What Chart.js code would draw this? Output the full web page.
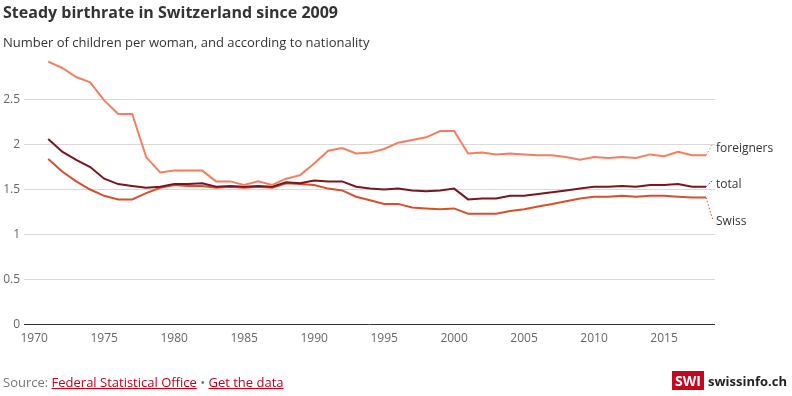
<!DOCTYPE html>
<html>
<head>
<meta charset="utf-8">
<script src="https://cdn.jsdelivr.net/npm/chart.js@4/dist/chart.umd.min.js"></script>
<style>
  html, body { margin: 0; padding: 0; background: #fff; }
  body { width: 792px; height: 396px; position: relative; overflow: hidden; font-family: 'Open Sans', sans-serif; }
  #wrap { position: absolute; left: 0; top: 0; width: 792px; height: 396px; }
  .title { position: absolute; left: 3px; top: 1px; font-size: 16px; font-weight: 700; color: #333; }
  .sub { position: absolute; left: 3px; top: 33px; font-size: 13px; color: #333; }
  .source { position: absolute; left: 3px; top: 373px; font-size: 13px; color: #777; }
  .source a { color: #c4001f; text-decoration: underline; }
  .logo { position: absolute; left: 672px; top: 371px; height: 19px; display: flex; align-items: center; }
  .logo .box { background: #c4071f; color: #fff; font-weight: 700; font-size: 14px; height: 19px; line-height: 19px; padding: 0 3px; width: 26px; text-align: center; }
  .logo .name { margin-left: 4px; font-weight: 700; font-size: 13px; color: #222; }
</style>
</head>
<body>
<div id="wrap"><canvas id="chart"></canvas></div>
<div class="title">Steady birthrate in Switzerland since 2009</div>
<div class="sub">Number of children per woman, and according to nationality</div>
<div class="source">Source: <a>Federal Statistical Office</a> • <a>Get the data</a></div>
<div class="logo"><span class="box">SWI</span><span class="name">swissinfo.ch</span></div>
<script>
const years = [1971, 1972, 1973, 1974, 1975, 1976, 1977, 1978, 1979, 1980,
  1981, 1982, 1983, 1984, 1985, 1986, 1987, 1988, 1989, 1990,
  1991, 1992, 1993, 1994, 1995, 1996, 1997, 1998, 1999, 2000,
  2001, 2002, 2003, 2004, 2005, 2006, 2007, 2008, 2009, 2010,
  2011, 2012, 2013, 2014, 2015, 2016, 2017, 2018];

const foreigners = [2.92, 2.85, 2.75, 2.69, 2.49, 2.34, 2.34, 1.86, 1.69, 1.71,
  1.71, 1.71, 1.59, 1.59, 1.55, 1.59, 1.55, 1.62, 1.66, 1.79,
  1.93, 1.96, 1.90, 1.91, 1.95, 2.02, 2.05, 2.08, 2.15, 2.15,
  1.90, 1.91, 1.89, 1.90, 1.89, 1.88, 1.88, 1.86, 1.83, 1.86,
  1.85, 1.86, 1.85, 1.89, 1.87, 1.92, 1.88, 1.88];

const total = [2.06, 1.92, 1.83, 1.75, 1.62, 1.56, 1.54, 1.52, 1.53, 1.56,
  1.56, 1.57, 1.53, 1.54, 1.53, 1.54, 1.53, 1.58, 1.57, 1.60,
  1.59, 1.59, 1.53, 1.51, 1.50, 1.51, 1.49, 1.48, 1.49, 1.51,
  1.39, 1.40, 1.40, 1.43, 1.43, 1.45, 1.47, 1.49, 1.51, 1.53,
  1.53, 1.54, 1.53, 1.55, 1.55, 1.56, 1.53, 1.53];

const swiss = [1.84, 1.70, 1.59, 1.50, 1.43, 1.39, 1.39, 1.46, 1.52, 1.55,
  1.54, 1.54, 1.52, 1.53, 1.52, 1.53, 1.52, 1.57, 1.56, 1.55,
  1.51, 1.49, 1.42, 1.38, 1.34, 1.34, 1.30, 1.29, 1.28, 1.29,
  1.23, 1.23, 1.23, 1.26, 1.28, 1.31, 1.34, 1.37, 1.40, 1.42,
  1.42, 1.43, 1.42, 1.43, 1.43, 1.42, 1.41, 1.41];

const xTicks = [1970, 1975, 1980, 1985, 1990, 1995, 2000, 2005, 2010, 2015];
const yTicks = [0, 0.5, 1, 1.5, 2, 2.5];
const seriesNames = ['foreigners', 'total', 'Swiss'];
const seriesColors = ['#f47f5e', '#7a1520', '#d7502d'];
const labelShift = [-8, -3, 23];

const toPoints = vals => years.map((y, i) => ({ x: y, y: vals[i] }));

// end labels with dotted leaders
const endLabels = {
  id: 'endLabels',
  afterDatasetsDraw(chart) {
    const ctx = chart.ctx;
    chart.data.datasets.forEach((ds, i) => {
      const pts = chart.getDatasetMeta(i).data;
      const last = pts[pts.length - 1];
      const ly = last.y + labelShift[i];
      ctx.save();
      ctx.strokeStyle = ds.borderColor;
      ctx.lineWidth = 1;
      ctx.setLineDash([1.5, 2]);
      ctx.beginPath();
      ctx.moveTo(last.x, last.y);
      ctx.lineTo(last.x + 7, ly - (labelShift[i] < 0 ? 4 : 0));
      ctx.stroke();
      ctx.setLineDash([]);
      ctx.fillStyle = '#333';
      ctx.font = '12px "Open Sans"';
      ctx.textBaseline = 'middle';
      ctx.fillText(seriesNames[i], last.x + 10, ly + 1);
      ctx.restore();
    });
  }
};

new Chart(document.getElementById('chart'), {
  type: 'line',
  data: {
    datasets: [
      { label: seriesNames[0], data: toPoints(foreigners), borderColor: seriesColors[0] },
      { label: seriesNames[1], data: toPoints(total), borderColor: seriesColors[1] },
      { label: seriesNames[2], data: toPoints(swiss), borderColor: seriesColors[2] }
    ]
  },
  options: {
    responsive: true,
    maintainAspectRatio: false,
    animation: false,
    layout: { padding: { left: 0, right: 77, top: 54.5, bottom: 51.5 } },
    elements: {
      line: { borderWidth: 2, tension: 0, fill: false },
      point: { radius: 0 }
    },
    plugins: { legend: { display: false }, tooltip: { enabled: false } },
    scales: {
      x: {
        type: 'linear',
        min: 1969.27,
        max: 2018.64,
        afterBuildTicks: s => { s.ticks = xTicks.map(v => ({ value: v })); },
        afterFit: s => { s.height = 20; },
        grid: { display: false, drawTicks: false },
        border: { display: false },
        ticks: {
          padding: 7,
          color: '#666',
          font: { family: 'Open Sans', size: 12 },
          callback: v => String(v),
          maxRotation: 0
        }
      },
      y: {
        min: 0,
        max: 3,
        afterBuildTicks: s => { s.ticks = yTicks.map(v => ({ value: v })); },
        afterFit: s => { s.width = 24; },
        grid: {
          drawTicks: false,
          color: c => (c.tick && c.tick.value === 0 ? '#333' : '#d9d9d9'),
          lineWidth: 1
        },
        border: { display: false },
        ticks: {
          padding: 4,
          color: '#666',
          font: { family: 'Open Sans', size: 12 },
          callback: v => String(v)
        }
      }
    }
  },
  plugins: [endLabels]
});
</script>
</body>
</html>
